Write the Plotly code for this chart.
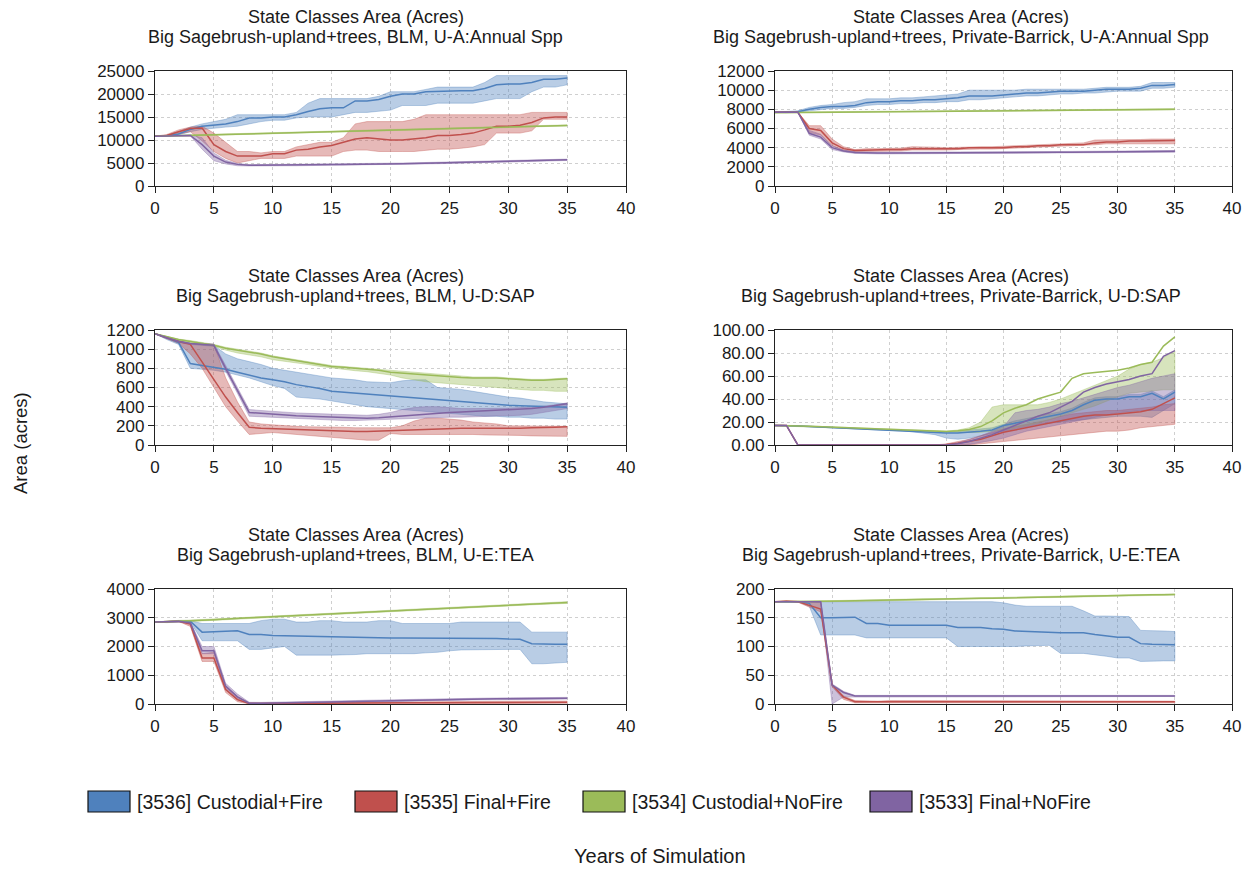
import plotly.graph_objects as go

# page body has an 8px default margin: size the figure so the page is exactly 1250x876
PAGE_W, PAGE_H = 1250, 876
OFF = 8
W, H = PAGE_W - 2 * OFF, PAGE_H - 2 * OFF

years = list(range(36))

series_names = ["[3536] Custodial+Fire", "[3535] Final+Fire", "[3534] Custodial+NoFire", "[3533] Final+NoFire"]
series_colors = ["#4f81bd", "#c0504d", "#9bbb59", "#8064a2"]

title_line1 = "State Classes Area (Acres)"
panel_subtitles = [
    "Big Sagebrush-upland+trees, BLM, U-A:Annual Spp",
    "Big Sagebrush-upland+trees, Private-Barrick, U-A:Annual Spp",
    "Big Sagebrush-upland+trees, BLM, U-D:SAP",
    "Big Sagebrush-upland+trees, Private-Barrick, U-D:SAP",
    "Big Sagebrush-upland+trees, BLM, U-E:TEA",
    "Big Sagebrush-upland+trees, Private-Barrick, U-E:TEA",
]
y_ranges = [[0, 25000], [0, 12000], [0, 1200], [0, 100], [0, 4000], [0, 200]]
y_dticks = [5000, 2000, 200, 20, 1000, 50]
y_formats = ["d", "d", "d", ".2f", "d", "d"]
x_range = [0, 40]
x_dtick = 5
x_title = "Years of Simulation"
y_title = "Area (acres)"

# ---------------- Panel 1: BLM, U-A:Annual Spp ----------------
p1_blue_mean = [10800,10900,11300,12300,13000,13200,13500,14000,14800,14800,15000,15000,15500,16200,16800,17000,17000,18500,18500,18800,19500,20000,20000,20500,20600,20700,20700,20700,21200,22000,22200,22200,22500,23200,23200,23500]
p1_blue_lo = [10800,10850,11100,11800,12300,12600,12800,13000,13500,14000,14300,14300,14800,15000,15000,15000,15500,16000,16000,16200,16500,17500,17500,17500,18000,18000,18000,18000,18500,19000,19000,19000,20500,21500,21500,22000]
p1_blue_hi = [10800,11000,11800,12800,13500,14000,14500,15500,15500,15500,15500,15500,16000,18000,19000,19000,19000,19000,19000,19500,20500,20500,20500,21000,21500,21500,21500,21500,22500,24000,24000,24000,24000,24000,24000,24000]
p1_red_mean = [10800,11000,11800,12500,12600,9000,7500,6500,6500,6500,7000,7000,7800,8000,8500,8800,9500,10200,10500,10200,10000,10000,10200,10500,11000,11000,11200,11500,12200,13000,13000,13200,13800,14800,15000,15000]
p1_red_lo = [10800,10850,11300,11800,9800,7500,6000,5000,5500,6000,6000,6000,6500,6500,6500,6500,7500,7800,7800,7500,7500,7500,7500,7800,8000,8000,8200,8500,9000,11500,11500,11500,12000,14500,14500,14500]
p1_red_hi = [10800,11200,12200,12800,13000,11500,9500,7500,7500,7200,7500,7500,8500,9000,9500,9500,10500,13500,14000,14000,14000,14000,14500,15500,15500,15500,15500,15500,15500,15500,15500,15500,16000,16000,16000,16000]
p1_green_mean = [10800,10870,10930,11000,11080,11150,11210,11280,11350,11420,11480,11550,11620,11690,11750,11820,11890,11960,12020,12090,12160,12230,12290,12360,12430,12500,12560,12630,12700,12770,12830,12900,12970,13040,13100,13170]
p1_green_lo = [10800,10760,10820,10880,10960,11030,11090,11160,11230,11300,11360,11430,11500,11570,11630,11700,11770,11840,11900,11970,12040,12110,12170,12240,12310,12380,12440,12510,12580,12650,12710,12780,12850,12920,12980,13050]
p1_green_hi = [10800,10980,11040,11120,11200,11270,11330,11400,11470,11540,11600,11670,11740,11810,11870,11940,12010,12080,12140,12210,12280,12350,12410,12480,12550,12620,12680,12750,12820,12890,12950,13020,13090,13160,13220,13290]
p1_purple_mean = [10800,10900,11000,11000,9000,6500,5200,4700,4500,4500,4500,4550,4550,4600,4600,4650,4700,4700,4750,4800,4800,4850,4900,4950,5000,5050,5100,5150,5200,5300,5350,5400,5500,5550,5600,5700]
p1_purple_lo = [10800,10850,10900,10900,8000,5500,4800,4400,4350,4350,4350,4400,4400,4450,4450,4500,4550,4550,4600,4650,4650,4700,4750,4800,4850,4900,4950,5000,5050,5150,5200,5250,5350,5400,5450,5550]
p1_purple_hi = [10800,10950,11100,11100,10500,7200,5600,4900,4650,4650,4650,4700,4700,4750,4750,4800,4850,4850,4900,4950,4950,5000,5050,5100,5150,5200,5250,5300,5350,5450,5500,5550,5650,5700,5750,5850]

# ---------------- Panel 2: Private-Barrick, U-A:Annual Spp ----------------
p2_blue_mean = [7700,7700,7750,8000,8200,8300,8300,8400,8700,8800,8800,8900,8900,9000,9000,9100,9200,9400,9400,9400,9500,9600,9700,9700,9800,9900,9900,9900,10000,10100,10100,10100,10200,10500,10500,10600]
p2_blue_lo = [7700,7650,7700,7850,8000,8100,8100,8200,8400,8500,8500,8600,8600,8700,8700,8800,8800,9000,9000,9100,9200,9300,9400,9400,9500,9600,9600,9700,9700,9800,9900,9900,9900,10200,10200,10300]
p2_blue_hi = [7700,7750,7850,8200,8400,8500,8700,8800,9100,9100,9100,9200,9200,9300,9400,9500,9600,10000,10000,10000,10000,10000,10100,10100,10100,10100,10100,10100,10200,10300,10300,10300,10400,10800,10800,10800]
p2_red_mean = [7700,7700,7700,6000,5800,4500,3900,3700,3750,3800,3800,3800,3900,3900,3900,3900,3900,4000,4000,4000,4000,4100,4100,4200,4200,4300,4300,4300,4500,4600,4600,4700,4700,4700,4700,4750]
p2_red_lo = [7700,7700,7700,5600,5300,4200,3700,3600,3600,3650,3650,3650,3750,3750,3750,3750,3800,3850,3850,3850,3900,3950,3950,4000,4050,4150,4200,4250,4300,4400,4400,4450,4450,4450,4400,4400]
p2_red_hi = [7700,7700,7700,6300,6300,4900,4100,3800,3900,3900,3900,3950,4100,4100,4050,4000,4050,4100,4100,4100,4150,4200,4250,4300,4350,4400,4400,4500,4800,4800,4800,4850,4850,4900,4900,4900]
p2_green_mean = [7650,7660,7670,7680,7690,7700,7710,7720,7730,7740,7750,7760,7770,7780,7790,7800,7810,7820,7830,7840,7850,7860,7870,7880,7890,7900,7910,7920,7930,7940,7950,7960,7970,7980,7990,8000]
p2_green_lo = [7650,7600,7610,7620,7630,7640,7650,7660,7670,7680,7690,7700,7710,7720,7730,7740,7750,7760,7770,7780,7790,7800,7810,7820,7830,7840,7850,7860,7870,7880,7890,7900,7910,7920,7930,7940]
p2_green_hi = [7650,7720,7730,7740,7750,7760,7770,7780,7790,7800,7810,7820,7830,7840,7850,7860,7870,7880,7890,7900,7910,7920,7930,7940,7950,7960,7970,7980,7990,8000,8010,8020,8030,8040,8050,8060]
p2_purple_mean = [7700,7700,7700,5500,5100,4000,3650,3500,3450,3450,3450,3450,3450,3450,3450,3450,3450,3450,3450,3460,3470,3480,3490,3500,3510,3520,3530,3540,3550,3560,3570,3580,3590,3600,3610,3620]
p2_purple_lo = [7700,7700,7700,5300,4900,3800,3550,3400,3350,3350,3350,3350,3350,3350,3350,3350,3350,3350,3350,3360,3370,3380,3390,3400,3410,3420,3430,3440,3450,3460,3470,3480,3490,3500,3510,3520]
p2_purple_hi = [7700,7700,7700,5800,5400,4200,3750,3580,3530,3530,3530,3530,3530,3530,3530,3530,3530,3530,3530,3540,3550,3560,3570,3580,3590,3600,3610,3620,3630,3640,3650,3660,3670,3680,3690,3700]

# ---------------- Panel 3: BLM, U-D:SAP ----------------
p3_blue_mean = [1160,1120,1070,850,830,810,790,760,730,700,680,660,630,610,590,560,550,540,530,520,515,505,495,485,475,465,455,445,435,425,415,410,405,400,395,395]
p3_blue_lo = [1160,1100,1050,800,790,780,760,730,700,660,620,590,500,490,480,460,440,420,400,390,380,370,360,350,340,330,320,310,300,300,290,290,280,280,270,270]
p3_blue_hi = [1160,1130,1090,1060,1050,1040,950,900,870,840,800,780,760,740,720,700,690,680,660,655,650,670,680,680,600,590,580,560,540,520,500,490,470,450,440,430]
p3_red_mean = [1160,1120,1080,1050,870,680,500,340,185,175,170,165,160,155,150,145,140,140,140,145,150,155,160,165,170,175,175,175,175,170,170,175,180,180,185,190]
p3_red_lo = [1160,1110,1060,950,800,600,400,250,110,120,130,120,110,100,90,80,70,60,50,50,120,110,110,110,110,110,110,110,105,100,100,100,95,90,90,90]
p3_red_hi = [1160,1130,1090,1060,1055,1050,700,450,240,220,210,200,195,190,190,190,185,180,180,180,180,200,250,280,280,270,260,240,230,220,200,200,195,195,195,195]
p3_green_mean = [1160,1130,1100,1080,1060,1040,1010,990,970,950,920,900,880,860,840,820,810,800,790,780,760,750,740,730,720,710,705,700,700,700,690,680,675,675,680,690]
p3_green_lo = [1160,1125,1095,1070,1050,1030,990,960,940,920,890,870,855,840,820,800,790,775,765,750,730,700,680,660,650,640,630,620,610,600,590,580,570,570,560,560]
p3_green_hi = [1160,1135,1105,1090,1070,1050,1020,1000,980,960,930,910,890,870,850,830,820,810,800,790,775,765,760,750,740,725,715,710,710,710,700,690,685,685,690,700]
p3_purple_mean = [1160,1120,1080,1060,1050,1040,800,570,340,330,320,310,305,300,295,290,285,280,280,285,295,305,315,325,335,340,345,350,355,360,365,370,380,395,410,430]
p3_purple_lo = [1160,1110,1070,1050,1040,1030,770,540,300,290,285,280,275,270,265,260,255,255,255,260,265,270,275,280,285,290,290,295,300,300,305,310,320,340,360,380]
p3_purple_hi = [1160,1130,1090,1065,1060,1055,830,600,370,360,350,340,335,330,325,320,315,310,310,320,340,370,390,400,400,390,380,380,380,380,385,390,395,405,420,440]

# ---------------- Panel 4: Private-Barrick, U-D:SAP ----------------
p4_blue_mean = [17,17,16.5,16,15.5,15,14.8,14.5,14,13.5,13,12.5,12,11.5,11,10.5,10.5,11,12,13,17,19,21,23,25,27,30,35,39,40,40,42,42,45,40,46]
p4_blue_lo = [16.8,16.8,16.3,15.8,15.3,14.8,14.6,14.3,13.8,13.3,12.8,12.3,11.5,10.5,9,6,5,6,8,10,12,14,16,18,19,20,21,22,23,24,25,25,25,24,30,36]
p4_blue_hi = [17.2,17.2,16.7,16.2,15.7,15.2,15,14.7,14.2,13.7,13.2,12.7,12.2,11.8,11.4,11,12,13,14,15,18,21,23,25,27,29,32,37,41,42,42,44,44,47,42,48]
p4_red_mean = [17,17,0,0,0,0,0,0,0,0,0,0,0,0,0,0.5,1.5,3,5,8,11,13,15,17,19,21,23,25,26,26,27,28,29,31,36,41]
p4_red_lo = [17,17,0,0,0,0,0,0,0,0,0,0,0,0,0,0,0,0,1,2,3,4,5,6,7,8,9,10,11,12,12,13,15,16,17,18]
p4_red_hi = [17,17,0,0,0,0,0,0,0,0,0,0,0,0,0,1,3,5,8,11,14,16,18,20,22,25,27,28,29,30,30,31,32,33,35,36]
p4_green_mean = [17,17,16.6,16.2,15.8,15.4,15,14.6,14.2,13.8,13.4,13,12.7,12.4,12.1,11.8,12.3,13.5,16,21,28,32,35,40,43,46,58,62,63,64,65,67,70,72,86,94]
p4_green_lo = [16.7,16.7,16.3,15.9,15.5,15.1,14.7,14.3,13.9,13.5,13.1,12.7,12.4,12.1,11.8,11.4,11,10.8,11,12,13,15,17,19,22,25,28,31,34,38,42,45,46,47,48,48]
p4_green_hi = [17.3,17.3,16.9,16.5,16.1,15.7,15.3,14.9,14.5,14.1,13.7,13.3,13,12.7,12.4,12.2,13,15,20,33,35,35,35,35,37,40,44,48,52,56,60,66,70,72,76,82]
p4_purple_mean = [17,17,0,0,0,0,0,0,0,0,0,0,0,0,0,0,1,3,6,9,13,17,21,25,28,33,38,46,50,53,55,57,60,62,77,82]
p4_purple_lo = [17,17,0,0,0,0,0,0,0,0,0,0,0,0,0,0,0,0.5,2,4,6,9,12,14,16,18,20,22,24,26,28,29,30,30,30,30]
p4_purple_hi = [17,17,0,0,0,0,0,0,0,0,0,0,0,0,0,0,2,5,8,12,16,28,30,31,33,36,38,41,44,47,50,52,55,58,60,62]

# ---------------- Panel 5: BLM, U-E:TEA ----------------
p5_blue_mean = [2850,2860,2880,2880,2500,2520,2520,2550,2420,2420,2380,2370,2360,2350,2350,2350,2330,2310,2310,2300,2300,2300,2300,2300,2300,2300,2300,2300,2290,2280,2260,2250,2100,2080,2080,2080]
p5_blue_lo = [2850,2850,2870,2860,2200,2200,2200,2200,1900,1900,1950,2000,1700,1700,1700,1700,1700,1720,1750,1750,1750,1750,1750,1780,1800,1850,1880,1900,1900,1900,1900,1900,1400,1400,1420,1450]
p5_blue_hi = [2850,2870,2890,2900,2800,2800,2800,2800,2800,2900,2950,2950,2850,2850,2900,2900,2850,2850,2850,2900,2900,2800,2800,2800,2800,2800,2850,2850,2850,2850,2850,2850,2500,2500,2500,2500]
p5_red_mean = [2850,2860,2880,2780,1600,1600,500,150,20,15,15,15,20,20,25,25,30,30,35,35,40,40,45,45,50,50,50,55,55,55,60,60,60,60,60,60]
p5_red_lo = [2850,2850,2870,2700,1480,1480,400,80,5,5,5,5,5,5,10,10,10,10,15,15,15,20,20,20,20,20,25,25,25,25,25,25,25,25,25,25]
p5_red_hi = [2850,2870,2890,2850,1750,1800,620,250,40,30,30,30,35,35,40,40,45,50,55,60,65,70,75,80,85,90,90,95,95,95,100,100,100,100,100,100]
p5_green_mean = [2850,2860,2880,2890,2910,2930,2960,2980,3000,3020,3040,3060,3080,3100,3120,3140,3160,3180,3200,3220,3240,3260,3280,3300,3320,3340,3360,3380,3400,3420,3440,3460,3480,3500,3520,3530]
p5_green_lo = [2850,2830,2850,2860,2880,2900,2930,2950,2970,2990,3010,3030,3050,3070,3090,3110,3130,3150,3170,3190,3210,3230,3250,3270,3290,3310,3330,3350,3370,3390,3410,3430,3450,3470,3490,3500]
p5_green_hi = [2850,2890,2910,2920,2940,2960,2990,3010,3030,3050,3070,3090,3110,3130,3150,3170,3190,3210,3230,3250,3270,3290,3310,3330,3350,3370,3390,3410,3430,3450,3470,3490,3510,3530,3550,3560]
p5_purple_mean = [2850,2860,2880,2820,1850,1850,620,250,30,25,30,35,40,50,60,70,80,90,100,110,120,130,140,150,155,160,165,170,175,180,185,190,195,195,200,200]
p5_purple_lo = [2850,2850,2870,2790,1750,1750,520,150,5,5,5,10,15,20,30,40,50,60,70,80,90,100,110,120,125,130,135,140,145,150,155,160,165,165,170,170]
p5_purple_hi = [2850,2870,2890,2850,2000,2000,720,350,60,55,60,65,70,80,90,100,110,120,130,140,150,160,170,180,185,190,195,200,205,210,215,220,225,225,230,230]

# ---------------- Panel 6: Private-Barrick, U-E:TEA ----------------
p6_blue_mean = [178,178,178,175,150,150,150,151,140,140,137,137,137,137,137,137,133,133,133,131,130,127,126,125,125,124,124,124,121,119,116,116,105,104,104,103]
p6_blue_lo = [178,178,178,170,120,120,120,120,115,115,115,115,115,115,115,115,100,100,100,100,100,100,101,102,102,88,88,88,86,83,80,80,74,74,75,75]
p6_blue_hi = [178,178,178,178,178,178,178,178,178,178,178,178,178,178,178,178,178,178,178,178,176,172,170,170,170,170,170,162,153,153,153,152,128,128,127,126]
p6_red_mean = [178,179,178,172,165,33,12,4,4,4,4,4,4,4,4,4,4,4,4,4,4,4,4,4,4,4,4,4,4,4,4,4,4,4,4,4]
p6_red_lo = [178,178,177,168,160,30,8,2,2,2,2,2,2,2,2,2,2,2,2,2,2,2,2,2,2,2,2,2,2,2,2,2,2,2,2,2]
p6_red_hi = [178,179,179,176,178,34,14,6,5,5,6,6,6,6,6,5,5,5,5,5,5,5,5,5,5,5,5,5,5,5,5,5,5,5,5,5]
p6_green_mean = [178,178,178,178,178.5,179,179,179.5,180,180,180.5,181,181.5,182,182,182.5,183,183.5,184,184,184.5,185,185.5,186,186,186.5,187,187.5,188,188,188.5,189,189.5,190,190,190.5]
p6_green_lo = [178,177,177,177,177.5,178,178,178.5,179,179,179.5,180,180.5,181,181,181.5,182,182.5,183,183,183.5,184,184.5,185,185,185.5,186,186.5,187,187,187.5,188,188.5,189,189,189.5]
p6_green_hi = [178,179,179,179,179.5,180,180,180.5,181,181,181.5,182,182.5,183,183,183.5,184,184.5,185,185,185.5,186,186.5,187,187,187.5,188,188.5,189,189,189.5,190,190.5,191,191,191.5]
p6_purple_mean = [178,178,178,178,178,33,20,14,14,14,14,14,14,14,14,14,14,14,14,14,14,14,14,14,14,14,14,14,14,14,14,14,14,14,14,14]
p6_purple_lo = [178,178,178,178,177,0,12,13,13,13,13,13,13,13,13,13,13,13,13,13,13,13,13,13,13,13,13,13,13,13,13,13,13,13,13,13]
p6_purple_hi = [178,178,178,178,178,35,22,15,15,15,15,15,15,15,15,15,15,15,15,15,15,15,15,15,15,15,15,15,15,15,15,15,15,15,15,15]

panels = [
    [(p1_blue_mean, p1_blue_lo, p1_blue_hi), (p1_red_mean, p1_red_lo, p1_red_hi), (p1_green_mean, p1_green_lo, p1_green_hi), (p1_purple_mean, p1_purple_lo, p1_purple_hi)],
    [(p2_blue_mean, p2_blue_lo, p2_blue_hi), (p2_red_mean, p2_red_lo, p2_red_hi), (p2_green_mean, p2_green_lo, p2_green_hi), (p2_purple_mean, p2_purple_lo, p2_purple_hi)],
    [(p3_blue_mean, p3_blue_lo, p3_blue_hi), (p3_red_mean, p3_red_lo, p3_red_hi), (p3_green_mean, p3_green_lo, p3_green_hi), (p3_purple_mean, p3_purple_lo, p3_purple_hi)],
    [(p4_blue_mean, p4_blue_lo, p4_blue_hi), (p4_red_mean, p4_red_lo, p4_red_hi), (p4_green_mean, p4_green_lo, p4_green_hi), (p4_purple_mean, p4_purple_lo, p4_purple_hi)],
    [(p5_blue_mean, p5_blue_lo, p5_blue_hi), (p5_red_mean, p5_red_lo, p5_red_hi), (p5_green_mean, p5_green_lo, p5_green_hi), (p5_purple_mean, p5_purple_lo, p5_purple_hi)],
    [(p6_blue_mean, p6_blue_lo, p6_blue_hi), (p6_red_mean, p6_red_lo, p6_red_hi), (p6_green_mean, p6_green_lo, p6_green_hi), (p6_purple_mean, p6_purple_lo, p6_purple_hi)],
]


def rgba(hex_color, a):
    h = hex_color.lstrip("#")
    r, g, b = int(h[0:2], 16), int(h[2:4], 16), int(h[4:6], 16)
    return f"rgba({r},{g},{b},{a})"


def px_x(x):
    return (x - OFF) / W


def px_y(y):
    return 1 - (y - OFF) / H


FONT = "Arial, Liberation Sans, sans-serif"
TEXT = "#1a1a1a"

# layout geometry (page pixels of the 1250x876 screenshot)
col_px = [(155, 626), (775, 1232)]
row_px = [(71, 186), (330, 445), (589, 704)]
title_cx = [356, 961]
title_y = [(17, 37), (276, 296), (535, 555)]

fig = go.Figure()
layout = dict(
    width=W, height=H,
    margin=dict(l=0, r=0, t=0, b=0, autoexpand=False),
    paper_bgcolor="white", plot_bgcolor="white",
    showlegend=False,
    font=dict(family=FONT, color=TEXT, size=17),
)

annotations = []
shapes = []

for i, panel in enumerate(panels):
    r, c = divmod(i, 2)
    ax = "" if i == 0 else str(i + 1)
    xref, yref = "x" + ax, "y" + ax
    x0, x1 = col_px[c]
    y0, y1 = row_px[r]
    axis_common = dict(
        showline=True, linecolor="#222", linewidth=1.3, mirror=True,
        ticks="outside", ticklen=6, tickwidth=1.2, tickcolor="#222",
        showgrid=True, gridcolor="#cfcfcf", griddash="dot", gridwidth=1,
        zeroline=False, tickfont=dict(size=17, family=FONT, color=TEXT),
        fixedrange=True,
    )
    layout["xaxis" + ax] = dict(
        axis_common, domain=[px_x(x0), px_x(x1)], anchor=yref,
        range=x_range, dtick=x_dtick, tick0=0,
    )
    layout["yaxis" + ax] = dict(
        axis_common, domain=[px_y(y1), px_y(y0)], anchor=xref,
        range=y_ranges[i], dtick=y_dticks[i], tick0=0, tickformat=y_formats[i],
    )
    # bands (min..max)
    for k, (mean, lo, hi) in enumerate(panel):
        col = series_colors[k]
        fig.add_trace(go.Scatter(
            x=years + years[::-1], y=hi + lo[::-1],
            xaxis=xref, yaxis=yref, mode="lines", fill="toself",
            fillcolor=rgba(col, 0.40), line=dict(color=rgba(col, 0.45), width=0.8),
            hoverinfo="skip",
        ))
    # mean lines
    for k, (mean, lo, hi) in enumerate(panel):
        col = series_colors[k]
        fig.add_trace(go.Scatter(
            x=years, y=mean, xaxis=xref, yaxis=yref, mode="lines",
            line=dict(color=col, width=1.5), name=series_names[k],
        ))
    # two-line panel titles
    ty1, ty2 = title_y[r]
    for txt, ty in ((title_line1, ty1), (panel_subtitles[i], ty2)):
        annotations.append(dict(text=txt, x=px_x(title_cx[c]), y=px_y(ty),
                                xref="paper", yref="paper", showarrow=False,
                                xanchor="center", yanchor="middle",
                                font=dict(size=18, family=FONT, color=TEXT)))

# legend (custom swatches)
leg_x = [88, 355, 583, 870]
leg_y0, leg_y1 = 791, 812
for k, name in enumerate(series_names):
    shapes.append(dict(type="rect", xref="paper", yref="paper",
                       x0=px_x(leg_x[k]), x1=px_x(leg_x[k] + 42),
                       y0=px_y(leg_y1), y1=px_y(leg_y0),
                       fillcolor=series_colors[k], line=dict(color="#111", width=1.2)))
    annotations.append(dict(text=name, x=px_x(leg_x[k] + 47), y=px_y((leg_y0 + leg_y1) / 2),
                            xref="paper", yref="paper", showarrow=False,
                            xanchor="left", yanchor="middle",
                            font=dict(size=19.5, family=FONT, color=TEXT)))

annotations.append(dict(text=x_title, x=px_x(660), y=px_y(856), xref="paper", yref="paper",
                        showarrow=False, xanchor="center", yanchor="middle",
                        font=dict(size=20, family=FONT, color=TEXT)))
annotations.append(dict(text=y_title, x=px_x(20), y=px_y(443), xref="paper", yref="paper",
                        showarrow=False, xanchor="center", yanchor="middle", textangle=-90,
                        font=dict(size=18.5, family=FONT, color=TEXT)))

layout["annotations"] = annotations
layout["shapes"] = shapes
fig.update_layout(**layout)
fig.write_html("out.html")
